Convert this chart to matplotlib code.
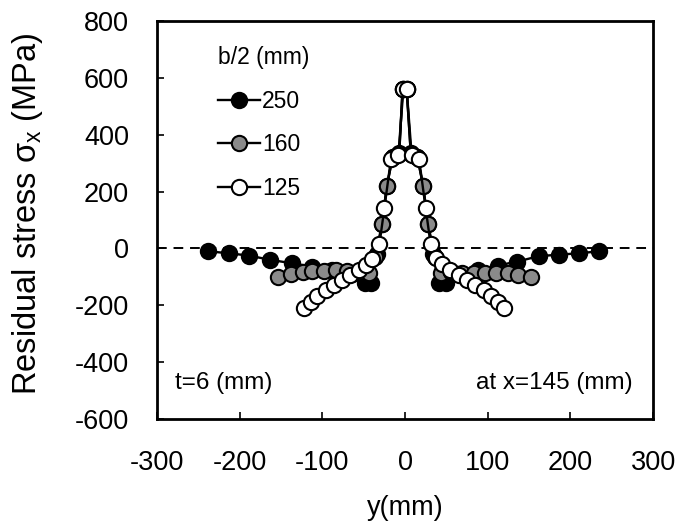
import matplotlib
matplotlib.use("Agg")
import matplotlib.pyplot as plt

plt.rcParams["font.family"] = ["Liberation Sans", "DejaVu Sans"]
plt.rcParams["mathtext.fontset"] = "custom"
plt.rcParams["mathtext.rm"] = "Liberation Sans"
plt.rcParams["mathtext.it"] = "Liberation Sans:italic"
plt.rcParams["axes.unicode_minus"] = False

# Distance from weld centre y (mm) and residual stress sigma_x (MPa), per half-width b/2
y_250 = [-238, -213, -189, -163, -137, -112, -88, -64, -48, -41, -34, -28, -22, -15, -7, -3,
         2, 7, 15, 22, 28, 34, 41, 49, 64, 88, 112, 136, 162, 186, 210, 235]
s_250 = [-10, -17, -25, -40, -52, -64, -76, -90, -122, -123, -20, 85, 219, 320, 335, 560,
         560, 335, 320, 219, 85, -20, -123, -122, -90, -76, -60, -46, -27, -22, -17, -10]

y_160 = [-154, -138, -124, -112, -98, -84, -70, -56, -44, -36, -28, -22, -15, -7, -3,
         2, 7, 15, 22, 28, 36, 44, 56, 69, 83, 97, 110, 124, 137, 152]
s_160 = [-99, -89, -84, -81, -81, -76, -80, -82, -85, -30, 85, 219, 322, 333, 560,
         560, 333, 322, 219, 85, -30, -85, -84, -86, -87, -87, -87, -87, -93, -102]

y_125 = [-122, -114, -106, -96, -86, -76, -66, -56, -47, -40, -31, -25, -17, -8, -2,
         2, 8, 17, 25, 31, 37, 45, 55, 65, 75, 85, 96, 104, 112, 120]
s_125 = [-208, -187, -166, -146, -128, -111, -93, -75, -58, -36, 14, 141, 315, 330, 560,
         560, 330, 315, 141, 14, -34, -55, -75, -93, -111, -128, -146, -166, -187, -208]

labels = ["250", "160", "125"]
fills = ["black", "#8a8a8a", "white"]

x_ticks = [-300, -200, -100, 0, 100, 200, 300]
y_ticks = [-600, -400, -200, 0, 200, 400, 600, 800]

fig = plt.figure(figsize=(6.77, 5.25), dpi=100)
ax = fig.add_axes([0.2319, 0.2019, 0.7327, 0.758])

ax.axhline(0, color="black", lw=1.4, ls=(0, (5, 3.5)), zorder=1)

for y, s, fc, lab in zip([y_250, y_160, y_125], [s_250, s_160, s_125], fills, labels):
    ax.plot(y, s, "-o", color="black", lw=1.7, ms=11, mfc=fc, mec="black",
            mew=1.5, label=lab, zorder=3)

ax.set_xlim(-300, 300)
ax.set_ylim(-600, 800)
ax.set_xticks(x_ticks)
ax.set_yticks(y_ticks)
ax.tick_params(direction="in", length=5, width=1.2, labelsize=19.5,
               top=False, right=False)
ax.tick_params(axis="x", pad=22)
ax.tick_params(axis="y", pad=20)
for sp in ax.spines.values():
    sp.set_linewidth(2.0)

ax.set_xlabel("y(mm)", fontsize=19.5)
ax.xaxis.set_label_coords(0.5, -0.19)
ax.set_ylabel(r"Residual stress $\mathregular{\sigma_x}$ (MPa)", fontsize=23.5)
ax.yaxis.set_label_coords(-0.226, 0.516)

ax.text(0.036, 0.090, "t=6 (mm)", transform=ax.transAxes, fontsize=17.5,
        ha="left", va="center")
ax.text(0.958, 0.090, "at x=145 (mm)", transform=ax.transAxes, fontsize=17.5,
        ha="right", va="center")

ax.legend(title="b/2 (mm)", loc="upper left", bbox_to_anchor=(0.113, 0.95),
          frameon=False, fontsize=16.5, title_fontsize=16.5, handlelength=1.8,
          handletextpad=0.1, labelspacing=0.9, borderpad=0.23, alignment="left",
          borderaxespad=0, numpoints=1)

fig.savefig("out.png", dpi=100)
